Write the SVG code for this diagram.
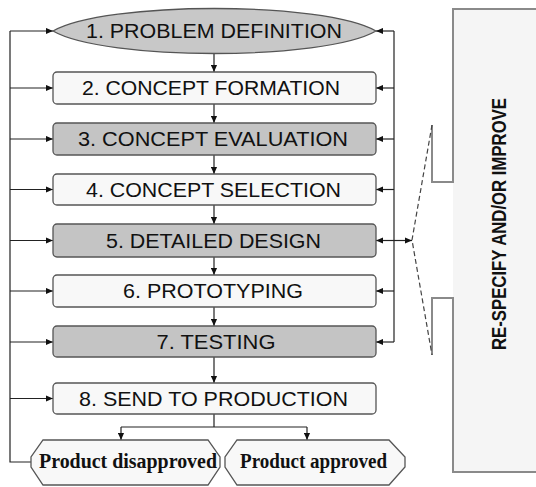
<svg xmlns="http://www.w3.org/2000/svg" width="536" height="487" viewBox="0 0 536 487">
<style>
.box{stroke:#555;stroke-width:1.3}
.light{fill:#f8f8f8}
.dark{fill:#c4c4c4}
.t{font-family:"Liberation Sans",Arial,sans-serif;font-size:19.5px;fill:#111;text-anchor:middle}
.o{font-family:"Liberation Serif","Times New Roman",serif;font-size:20px;font-weight:bold;fill:#111;text-anchor:middle}
.ln{stroke:#222;stroke-width:1.2;fill:none}
.pan{stroke:#8a8a8a;stroke-width:2;fill:none}
</style>
<defs>
<marker id="ah" viewBox="0 0 8 8" refX="8" refY="4" markerWidth="7" markerHeight="7" markerUnits="userSpaceOnUse" orient="auto">
<path d="M0,0.5 L8,4 L0,7.5 Z" fill="#111"/>
</marker>
</defs>
<g id="panel">
<rect x="453" y="9" width="90" height="463" fill="#f5f5f5"/>
<path class="pan" d="M540,9 H453 V182 H432 V125"/>
<path class="pan" d="M432,355 V298 H453 V472 H540"/>
<path d="M432,125 L412,240 L432,355" fill="none" stroke="#444" stroke-width="1.2" stroke-dasharray="5,3"/>
<text x="0" y="0" transform="translate(506,224) rotate(-90)" font-family="Liberation Sans,Arial,sans-serif" font-weight="bold" font-size="21" fill="#111" text-anchor="middle" textLength="252" lengthAdjust="spacingAndGlyphs">RE-SPECIFY AND/OR IMPROVE</text>
</g>
<g id="connectors">
<path class="ln" d="M31,462 H10 V31"/>
<path class="ln" d="M10,31 H53" marker-end="url(#ah)"/>
<path class="ln" d="M10,88 H53" marker-end="url(#ah)"/>
<path class="ln" d="M10,139 H53" marker-end="url(#ah)"/>
<path class="ln" d="M10,189.5 H53" marker-end="url(#ah)"/>
<path class="ln" d="M10,240.5 H53" marker-end="url(#ah)"/>
<path class="ln" d="M10,291 H53" marker-end="url(#ah)"/>
<path class="ln" d="M10,342 H53" marker-end="url(#ah)"/>
<path class="ln" d="M10,398.5 H53" marker-end="url(#ah)"/>
<path class="ln" d="M394,31 V342"/>
<path class="ln" d="M394,31 H376" marker-end="url(#ah)"/>
<path class="ln" d="M394,88 H376" marker-end="url(#ah)"/>
<path class="ln" d="M394,139 H376" marker-end="url(#ah)"/>
<path class="ln" d="M394,189.5 H376" marker-end="url(#ah)"/>
<path class="ln" d="M394,240.5 H376" marker-end="url(#ah)"/>
<path class="ln" d="M394,291 H376" marker-end="url(#ah)"/>
<path class="ln" d="M394,342 H376" marker-end="url(#ah)"/>
<path class="ln" d="M394,240.5 H412" marker-end="url(#ah)"/>
<path class="ln" d="M214,54 V72" marker-end="url(#ah)"/>
<path class="ln" d="M214,104 V123" marker-end="url(#ah)"/>
<path class="ln" d="M214,155 V174" marker-end="url(#ah)"/>
<path class="ln" d="M214,205 V224" marker-end="url(#ah)"/>
<path class="ln" d="M214,257 V275" marker-end="url(#ah)"/>
<path class="ln" d="M214,307 V326" marker-end="url(#ah)"/>
<path class="ln" d="M214,357 V383" marker-end="url(#ah)"/>
<path class="ln" d="M214,414 V427 M121,427 H307"/>
<path class="ln" d="M121,427 V440" marker-end="url(#ah)"/>
<path class="ln" d="M307,427 V440" marker-end="url(#ah)"/>
</g>
<g id="n1">
<path d="M53,31 C105,1 324,1 376,31 C324,61 105,61 53,31 Z" fill="#c8c8c8" class="box"/>
<text class="t" x="214" y="38" textLength="256" lengthAdjust="spacingAndGlyphs">1. PROBLEM DEFINITION</text>
</g>
<g id="n2">
<rect x="53" y="72" width="323" height="32" rx="4" class="box light"/>
<text class="t" x="211" y="95" textLength="258" lengthAdjust="spacingAndGlyphs">2. CONCEPT FORMATION</text>
</g>
<g id="n3">
<rect x="53" y="123" width="323" height="32" rx="4" class="box dark"/>
<text class="t" x="213" y="146" textLength="270" lengthAdjust="spacingAndGlyphs">3. CONCEPT EVALUATION</text>
</g>
<g id="n4">
<rect x="53" y="174" width="323" height="31" rx="4" class="box light"/>
<text class="t" x="213.5" y="196.5" textLength="255" lengthAdjust="spacingAndGlyphs">4. CONCEPT SELECTION</text>
</g>
<g id="n5">
<rect x="53" y="224" width="323" height="33" rx="4" class="box dark"/>
<text class="t" x="213.5" y="247.5" textLength="215" lengthAdjust="spacingAndGlyphs">5. DETAILED DESIGN</text>
</g>
<g id="n6">
<rect x="53" y="275" width="323" height="32" rx="4" class="box light"/>
<text class="t" x="213" y="298" textLength="180" lengthAdjust="spacingAndGlyphs">6. PROTOTYPING</text>
</g>
<g id="n7">
<rect x="53" y="326" width="323" height="31" rx="4" class="box dark"/>
<text class="t" x="216" y="349" textLength="119" lengthAdjust="spacingAndGlyphs">7. TESTING</text>
</g>
<g id="n8">
<rect x="53" y="383" width="323" height="31" rx="4" class="box light"/>
<text class="t" x="213.5" y="405.5" textLength="269" lengthAdjust="spacingAndGlyphs">8. SEND TO PRODUCTION</text>
</g>
<g id="n9">
<path d="M43,440 H208 L220,457 V467 L208,485 H43 L31,467 V457 Z" class="box light"/>
<text class="o" x="128" y="468" textLength="178" lengthAdjust="spacingAndGlyphs">Product disapproved</text>
</g>
<g id="n10">
<path d="M237,440 H389 L405,457 V467 L389,485 H237 L225,467 V457 Z" class="box light"/>
<text class="o" x="313.5" y="468" textLength="147" lengthAdjust="spacingAndGlyphs">Product approved</text>
</g>
</svg>
